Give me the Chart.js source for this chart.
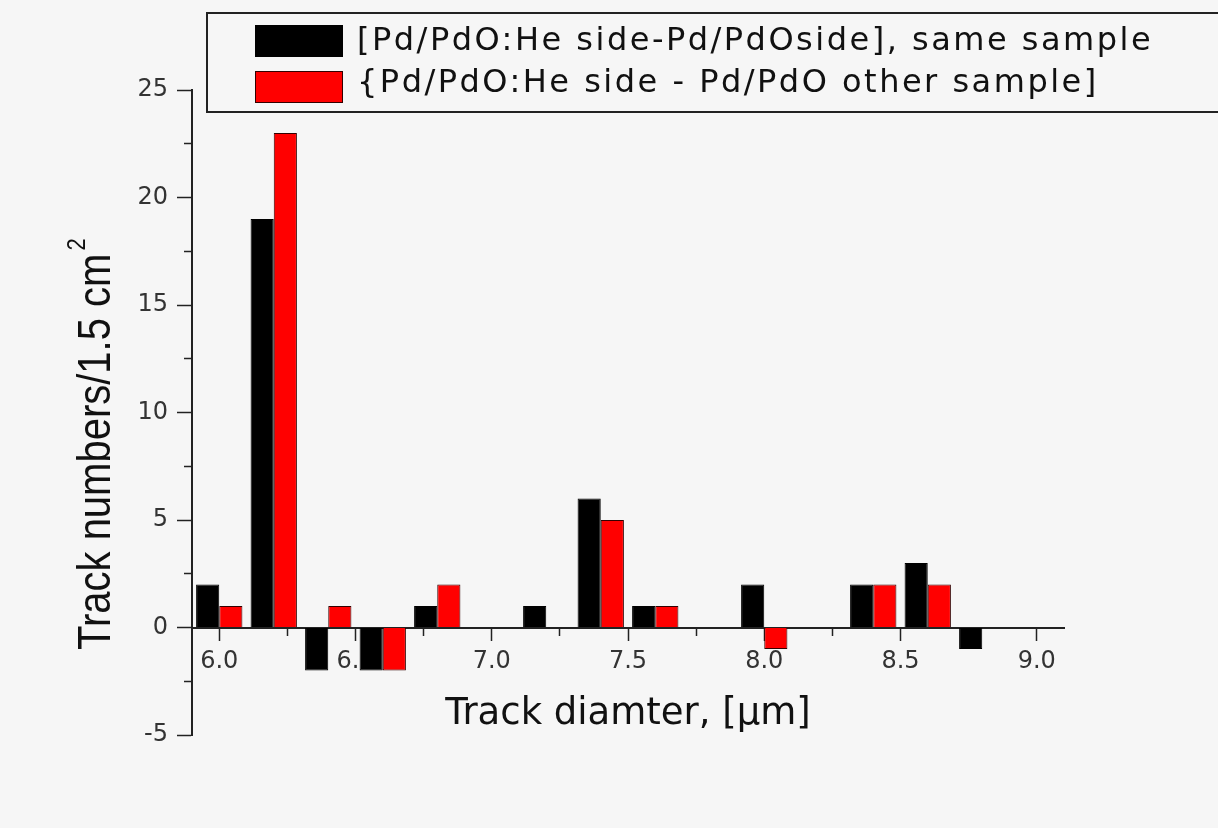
<!DOCTYPE html>
<html>
<head>
<meta charset="utf-8">
<style>
  html, body { margin: 0; padding: 0; background: #f6f6f6; }
  #wrap { position: relative; width: 1218px; height: 828px; }
  canvas { display: block; }
</style>
<script src="https://cdn.jsdelivr.net/npm/chart.js@4/dist/chart.umd.min.js"></script>
</head>
<body>
<div id="wrap"><canvas id="c" width="1218" height="828"></canvas></div>
<script>
// ---- data ----
const trackDiameters = [6.0, 6.2, 6.4, 6.6, 6.8, 7.0, 7.2, 7.4, 7.6, 7.8, 8.0, 8.2, 8.4, 8.6, 8.8];
const sameSample     = [2, 19, -2, -2, 1, 0, 1, 6, 1, 0, 2, 0, 2, 3, -1];
const otherSample    = [1, 23, 1, -2, 2, 0, 0, 5, 1, 0, -1, 0, 2, 2, 0];
const seriesLabels = [
  '[Pd/PdO:He side-Pd/PdOside], same sample',
  '{Pd/PdO:He side - Pd/PdO other sample]'
];
const xMajorTicks = [6.0, 6.5, 7.0, 7.5, 8.0, 8.5, 9.0];
const xMinorTicks = [6.25, 6.75, 7.25, 7.75, 8.25, 8.75];
const yMajorTicks = [-5, 0, 5, 10, 15, 20, 25];
const yMinorTicks = [-2.5, 2.5, 7.5, 12.5, 17.5, 22.5];
const xTitle = 'Track diamter, [\u03bcm]';
const yTitle = 'Track numbers/1.5 cm';
const yTitleSup = '2';

// ---- helpers ----
const isMajor = (arr, v) => arr.some(t => Math.abs(t - v) < 1e-9);
const setTicks = (major, minor) => scale => {
  scale.ticks = major.concat(minor).sort((a, b) => a - b).map(v => ({ value: v }));
};
const BG = '#f6f6f6';

const bgPlugin = {
  id: 'bg',
  beforeDraw(chart) {
    const c = chart.ctx;
    c.save();
    c.fillStyle = BG;
    c.fillRect(0, 0, chart.width, chart.height);
    c.restore();
  }
};

const legendBoxPlugin = {
  id: 'legendBox',
  afterDraw(chart) {
    const c = chart.ctx;
    c.save();
    c.lineWidth = 2;
    c.strokeStyle = '#222';
    c.strokeRect(207, 13, 1100, 99);
    const swatchY = [41, 87];
    const textY = [42, 84];
    chart.data.datasets.forEach((ds, i) => {
      c.fillStyle = ds.backgroundColor;
      c.fillRect(255, swatchY[i] - 16, 88, 32);
      c.lineWidth = 1;
      c.strokeStyle = ds.borderColor;
      c.strokeRect(255.5, swatchY[i] - 15.5, 87, 31);
      c.font = '32px "DejaVu Sans"';
      try { c.letterSpacing = '2.5px'; } catch (e) {}
      c.fillStyle = '#111';
      c.textAlign = 'left';
      c.textBaseline = 'middle';
      c.fillText(ds.label, 357, textY[i]);
    });
    c.restore();
  }
};

const yTitlePlugin = {
  id: 'yTitle',
  afterDraw(chart) {
    const c = chart.ctx;
    c.save();
    c.translate(110, 650);
    c.rotate(-Math.PI / 2);
    c.scale(1, 1.15);
    c.fillStyle = '#111';
    c.textAlign = 'left';
    c.textBaseline = 'alphabetic';
    c.font = '40px "Liberation Sans"';
    c.fillText(yTitle, 0, 0);
    const w = c.measureText(yTitle).width;
    c.font = '22px "Liberation Sans"';
    c.fillText(yTitleSup, w + 3, -22);
    c.restore();
  }
};

new Chart(document.getElementById('c'), {
  type: 'bar',
  data: {
    datasets: [
      {
        label: seriesLabels[0],
        data: trackDiameters.map((x, i) => ({ x: x, y: sameSample[i] })),
        backgroundColor: '#000000',
        borderColor: '#000000',
        borderWidth: 1
      },
      {
        label: seriesLabels[1],
        data: trackDiameters.map((x, i) => ({ x: x, y: otherSample[i] })),
        backgroundColor: '#ff0000',
        borderColor: '#330000',
        borderWidth: 1
      }
    ]
  },
  options: {
    responsive: false,
    animation: false,
    events: [],
    layout: { padding: { left: 0, right: 154, top: 90, bottom: 93 } },
    datasets: { bar: { categoryPercentage: 0.85, barPercentage: 1.0 } },
    plugins: { legend: { display: false }, tooltip: { enabled: false } },
    scales: {
      x: {
        type: 'linear',
        position: { y: 0 },
        min: 5.9,
        max: 9.1,
        offset: false,
        afterBuildTicks: setTicks(xMajorTicks, xMinorTicks),
        ticks: {
          autoSkip: false,
          maxRotation: 0,
          padding: 8,
          color: '#333',
          font: { family: 'DejaVu Sans', size: 24 },
          callback: v => isMajor(xMajorTicks, v) ? Number(v).toFixed(1) : ''
        },
        grid: {
          offset: false,
          drawOnChartArea: false,
          drawTicks: true,
          tickLength: 12,
          tickWidth: 1.5,
          tickColor: '#222',
          tickBorderDash: ctx => (ctx.tick && isMajor(xMajorTicks, ctx.tick.value)) ? [] : [7, 100]
        },
        border: { display: true, color: '#222', width: 2 },
        title: {
          display: true,
          text: xTitle,
          color: '#111',
          font: { family: 'DejaVu Sans', size: 37 },
          padding: { top: 8, bottom: 0 }
        }
      },
      y: {
        type: 'linear',
        position: 'left',
        min: -5,
        max: 25,
        afterBuildTicks: setTicks(yMajorTicks, yMinorTicks),
        afterFit: s => { s.width = 192; },
        ticks: {
          autoSkip: false,
          padding: 9,
          color: '#333',
          font: { family: 'DejaVu Sans', size: 24 },
          callback: v => isMajor(yMajorTicks, v) ? String(v) : ''
        },
        grid: {
          offset: false,
          drawOnChartArea: false,
          drawTicks: true,
          tickLength: 15,
          tickWidth: 1.5,
          tickColor: '#222',
          tickBorderDash: ctx => (ctx.tick && isMajor(yMajorTicks, ctx.tick.value)) ? [] : [0, 7, 8, 100]
        },
        border: { display: true, color: '#222', width: 2 },
        title: { display: false }
      }
    }
  },
  plugins: [bgPlugin, legendBoxPlugin, yTitlePlugin]
});
</script>
</body>
</html>
